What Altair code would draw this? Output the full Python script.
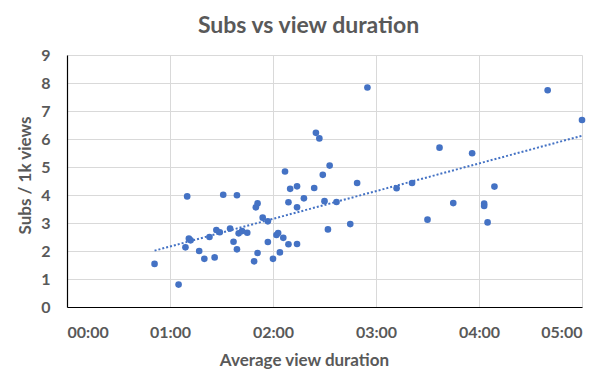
import altair as alt
import pandas as pd

# Average view duration (seconds) and subscribers per 1k views
duration_sec = [51, 65, 70, 69, 71, 72, 77, 80, 83, 86, 87, 89, 91, 95, 97, 99,
                99, 100, 102, 105, 109, 110, 111, 111, 114, 117, 117, 120, 122, 123,
                124, 126, 127, 129, 129, 130, 134, 134, 134, 138, 144, 145, 147, 149,
                150, 153, 152, 157, 175, 169, 165, 192, 201, 210, 217, 225, 236, 243,
                243, 245, 249, 280, 300]
subs_per_1k = [1.54, 0.80, 3.95, 2.13, 2.44, 2.38, 2.00, 1.72, 2.50, 1.77, 2.75, 2.67,
               4.01, 2.80, 2.33, 3.99, 2.06, 2.63, 2.71, 2.65, 1.63, 3.56, 3.70, 1.93,
               3.19, 2.32, 3.06, 1.72, 2.57, 2.64, 1.95, 2.47, 4.84, 2.24, 3.74, 4.22,
               4.31, 3.56, 2.25, 3.88, 4.25, 6.22, 6.02, 4.72, 3.78, 5.05, 2.77, 3.75,
               7.84, 4.43, 2.96, 4.24, 4.43, 3.12, 5.69, 3.71, 5.49, 3.69, 3.61, 3.02,
               4.30, 7.74, 6.68]
x_ticks = [0, 1, 2, 3, 4, 5]
y_ticks = [0, 1, 2, 3, 4, 5, 6, 7, 8, 9]

df = pd.DataFrame({"sec": duration_sec, "subs": subs_per_1k})
df["min"] = df["sec"] / 60.0

BLUE = "#4472C4"
GRAY = "#595959"
FONT = "Lato"

base = alt.Chart(df).encode(
    x=alt.X("min:Q",
            scale=alt.Scale(domain=[0, 5], nice=False, zero=False),
            axis=alt.Axis(values=x_ticks,
                          labelExpr="'0' + datum.value + ':00'",
                          title="Average view duration",
                          labelPadding=17,
                          titleX=237, titleY=53, titleBaseline="middle")),
    y=alt.Y("subs:Q",
            scale=alt.Scale(domain=[0, 9], nice=False),
            axis=alt.Axis(values=y_ticks,
                          title="Subs / 1k views",
                          labelPadding=17,
                          titleX=-42, titleY=120, titleBaseline="middle")),
)

points = base.mark_circle(size=44, color=BLUE, opacity=1)
trend = base.transform_regression("min", "subs").mark_line(
    color=BLUE, strokeWidth=2, strokeDash=[2, 2])

chart = alt.layer(trend, points).properties(
    width=515, height=252,
    autosize=alt.AutoSizeParams(type="none"),
    padding={"left": 59, "top": 47, "right": 26, "bottom": 66},
    title=alt.TitleParams("Subs vs view duration", fontSize=23, font=FONT,
                          fontWeight="bold", color=GRAY, anchor="middle",
                          frame="group", dx=-16, offset=9),
).configure_view(stroke=None).configure_axis(
    grid=True, gridColor="#d9d9d9", gridWidth=1,
    domainColor="#000000", domainWidth=1.2,
    ticks=False, tickSize=0,
    labelFont=FONT, labelFontSize=16, labelFontWeight="bold", labelColor=GRAY,
    titleFont=FONT, titleFontSize=17, titleFontWeight="bold", titleColor=GRAY,
).configure_axisY(domain=True).configure_axisX(domain=True)

chart.save("out.html", embed_options={"renderer": "svg", "actions": False})
